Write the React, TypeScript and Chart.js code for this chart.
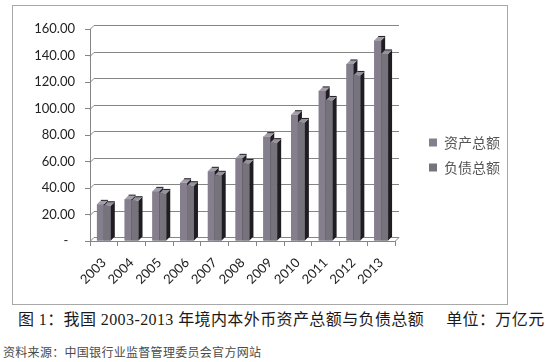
import React, { useEffect, useRef } from 'react';
import { Chart, registerables } from 'chart.js';

Chart.register(...registerables);

const years = ['2003', '2004', '2005', '2006', '2007', '2008', '2009', '2010', '2011', '2012', '2013'];
const totalAssets = [27.66, 31.6, 37.47, 43.95, 52.6, 62.39, 78.77, 95.3, 113.29, 133.62, 151.35];
const totalLiabilities = [26.59, 30.36, 35.9, 41.71, 49.57, 58.54, 74.23, 89.47, 106.08, 124.95, 141.18];
const seriesNames = ['资产总额', '负债总额'];
const yMin = 0;
const yMax = 160;
const yStep = 20;

const captionMain = '图 1：我国 2003-2013 年境内本外币资产总额与负债总额';
const captionUnit = '单位：万亿元';
const sourceText = '资料来源：中国银行业监督管理委员会官方网站';

const DEPTH = 4;
const FRONT_COLORS = ['#857e8c', '#77737d'];
const SIDE_COLOR = '#1f1d22';
const TOP_COLORS = ['#a49dab', '#96919c'];

const depthPlugin = {
  id: 'depth3d',
  beforeDatasetsDraw(chart: any) {
    const { ctx, chartArea, scales } = chart;
    const ys = scales.y;
    ctx.save();
    ctx.strokeStyle = '#858585';
    ctx.lineWidth = 1;
    for (const t of ys.ticks) {
      const py = Math.round(ys.getPixelForValue(t.value)) + 0.5;
      ctx.beginPath();
      ctx.moveTo(chartArea.left, py);
      ctx.lineTo(chartArea.left + DEPTH, py - DEPTH);
      ctx.lineTo(chartArea.right + DEPTH, py - DEPTH);
      ctx.stroke();
    }
    const by = Math.round(chartArea.bottom) + 0.5;
    ctx.beginPath();
    ctx.moveTo(chartArea.right, by);
    ctx.lineTo(chartArea.right + DEPTH, by - DEPTH);
    ctx.stroke();
    ctx.restore();
  },
  afterDatasetsDraw(chart: any) {
    const ctx = chart.ctx;
    ctx.save();
    chart.data.datasets.forEach((_ds: any, di: number) => {
      const meta = chart.getDatasetMeta(di);
      for (const bar of meta.data) {
        const { x, y, base, width } = bar.getProps(['x', 'y', 'base', 'width'], true);
        const l = x - width / 2;
        const r = x + width / 2;
        ctx.fillStyle = FRONT_COLORS[di];
        ctx.fillRect(l, y, width, base - y);
        ctx.fillStyle = SIDE_COLOR;
        ctx.beginPath();
        ctx.moveTo(r, y);
        ctx.lineTo(r + DEPTH, y - DEPTH);
        ctx.lineTo(r + DEPTH, base - DEPTH);
        ctx.lineTo(r, base);
        ctx.closePath();
        ctx.fill();
        ctx.fillStyle = TOP_COLORS[di];
        ctx.beginPath();
        ctx.moveTo(l, y);
        ctx.lineTo(l + DEPTH, y - DEPTH);
        ctx.lineTo(r + DEPTH, y - DEPTH);
        ctx.lineTo(r, y);
        ctx.closePath();
        ctx.fill();
        ctx.strokeStyle = SIDE_COLOR;
        ctx.lineWidth = 1;
        ctx.beginPath();
        ctx.moveTo(l + DEPTH, y - DEPTH);
        ctx.lineTo(r + DEPTH, y - DEPTH);
        ctx.stroke();
      }
    });
    ctx.restore();
  },
};

function ChartBox() {
  const ref = useRef<HTMLCanvasElement | null>(null);
  useEffect(() => {
    if (!ref.current) return;
    const chart = new Chart(ref.current, {
      type: 'bar',
      data: {
        labels: years,
        datasets: [
          {
            label: seriesNames[0],
            data: totalAssets,
            backgroundColor: FRONT_COLORS[0],
            barPercentage: 1,
            categoryPercentage: 0.5,
          },
          {
            label: seriesNames[1],
            data: totalLiabilities,
            backgroundColor: FRONT_COLORS[1],
            barPercentage: 1,
            categoryPercentage: 0.5,
          },
        ],
      },
      options: {
        responsive: false,
        animation: false,
        layout: { padding: 0 },
        plugins: {
          tooltip: { enabled: false },
          legend: {
            position: 'right',
            maxWidth: 89,
            labels: {
              boxWidth: 8,
              boxHeight: 8,
              padding: 11,
              color: '#555',
              font: { family: '"Noto Sans CJK SC", sans-serif', size: 14 },
            },
          },
        },
        scales: {
          x: {
            grid: { display: true, drawOnChartArea: false, color: '#858585', tickLength: 5, offset: true },
            border: { display: true, color: '#858585' },
            afterFit: (s: any) => {
              s.height = 63;
            },
            ticks: {
              minRotation: 45,
              maxRotation: 45,
              color: '#222',
              padding: 9,
              font: { family: 'Lato, "Open Sans", sans-serif', size: 13 },
            },
          },
          y: {
            min: yMin,
            max: yMax,
            grid: { display: true, drawOnChartArea: false, color: '#858585', tickLength: 5 },
            border: { display: true, color: '#858585' },
            afterFit: (s: any) => {
              s.width = 77;
            },
            ticks: {
              stepSize: yStep,
              color: '#222',
              padding: 10,
              font: { family: 'Lato, "Open Sans", sans-serif', size: 13 },
              callback: (v: any) => (Number(v) === 0 ? '-  ' : Number(v).toFixed(2)),
            },
          },
          gap: {
            type: 'linear',
            position: 'right',
            display: true,
            grid: { display: false },
            border: { display: false },
            ticks: { display: false },
            afterFit: (s: any) => {
              s.width = 23;
            },
          },
          gapTop: {
            type: 'linear',
            position: 'top',
            display: true,
            grid: { display: false },
            border: { display: false },
            ticks: { display: false },
            afterFit: (s: any) => {
              s.height = 23;
            },
          },
        },
      },
      plugins: [depthPlugin],
    });
    return () => chart.destroy();
  }, []);
  return <canvas ref={ref} width={494} height={298} style={{ display: 'block' }} />;
}

export default function App() {
  return (
    <div style={{ position: 'absolute', left: 0, top: 0, width: 557, height: 362, background: '#fff', overflow: 'hidden' }}>
      <div
        style={{
          position: 'absolute',
          left: 12,
          top: 5,
          width: 496,
          height: 300,
          border: '1px solid #a8a8a8',
          boxSizing: 'border-box',
        }}
      >
        <ChartBox />
      </div>
      <div
        style={{
          position: 'absolute',
          left: 18,
          top: 311,
          whiteSpace: 'nowrap',
          fontFamily: '"Liberation Serif", "Noto Sans CJK SC", serif',
          fontSize: 16,
          lineHeight: '18px',
          letterSpacing: '0.4px',
          color: '#1a1a1a',
        }}
      >
        {captionMain}
        <span style={{ marginLeft: 22 }}>{captionUnit}</span>
      </div>
      <div
        style={{
          position: 'absolute',
          left: 3,
          top: 345,
          whiteSpace: 'nowrap',
          fontFamily: '"Noto Sans CJK SC", sans-serif',
          fontSize: 12,
          lineHeight: '14px',
          letterSpacing: '0.3px',
          color: '#4a4a4a',
        }}
      >
        {sourceText}
      </div>
    </div>
  );
}
